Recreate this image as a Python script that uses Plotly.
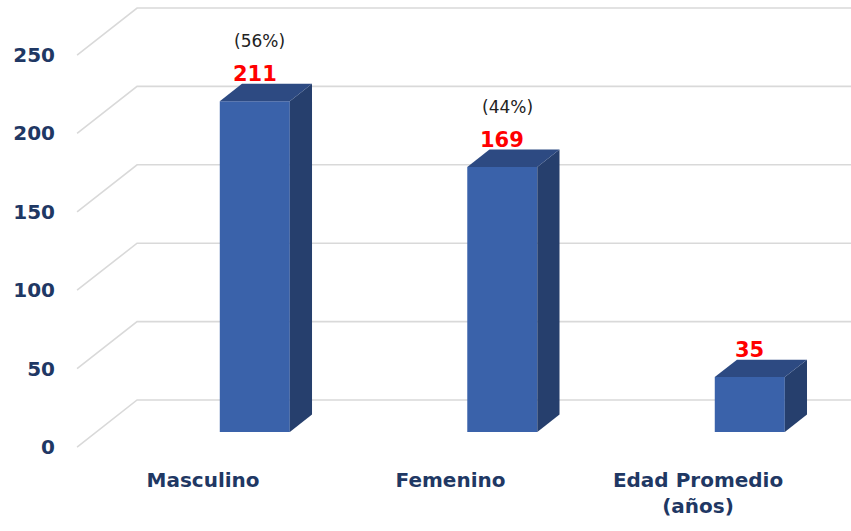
import plotly.graph_objects as go

# ---- data ----
categories = ["Masculino", "Femenino", "Edad Promedio<br>(años)"]
values = [211, 169, 35]
pct_labels = ["(56%)", "(44%)", ""]
y_ticks = [0, 50, 100, 150, 200, 250]

# ---- pseudo-3D geometry (in data units) ----
DX, DY = 0.2424, 30.0          # depth offset of the back wall
Z0, Z1 = 0.32, 0.69            # bar depth (front / back)
BAR_L, BAR_R = -0.01, 0.273    # bar extent relative to category position
GRID_X0, GRID_X1 = -0.509, 2.8

def proj(x, y, z):
    return x + z * DX, y + z * DY

FRONT = "#3A62AA"
TOP = "#2D4A82"
SIDE = "#263F6D"
NAVY = "#1F3864"
FONT = "DejaVu Sans"

fig = go.Figure()

# gridlines: left wall diagonal + back wall horizontal
for v in y_ticks:
    xa, ya = proj(GRID_X0, v, 0)
    xb, yb = proj(GRID_X0, v, 1)
    fig.add_trace(go.Scatter(x=[xa, xb, GRID_X1], y=[ya, yb, yb], mode="lines",
                             line=dict(color="#D9D9D9", width=1.6),
                             hoverinfo="skip", showlegend=False))

# bars
for i, v in enumerate(values):
    l, r = i + BAR_L, i + BAR_R
    faces = [
        ([proj(l, 0, Z0), proj(r, 0, Z0), proj(r, v, Z0), proj(l, v, Z0)], FRONT),
        ([proj(r, 0, Z0), proj(r, 0, Z1), proj(r, v, Z1), proj(r, v, Z0)], SIDE),
        ([proj(l, v, Z0), proj(r, v, Z0), proj(r, v, Z1), proj(l, v, Z1)], TOP),
    ]
    for pts, col in faces:
        fig.add_trace(go.Scatter(x=[p[0] for p in pts] + [pts[0][0]],
                                 y=[p[1] for p in pts] + [pts[0][1]],
                                 fill="toself", fillcolor=col, mode="lines",
                                 line=dict(width=0, color=col),
                                 hoverinfo="skip", showlegend=False))
    # labels
    cx, _ = proj((l + r) / 2, v, Z0)
    _, ty = proj(l, v, Z1)
    fig.add_annotation(x=cx, y=ty, text="<b>%d</b>" % v, showarrow=False, yanchor="bottom",
                       yshift=-4, font=dict(family=FONT, size=21, color="#FF0000"))
    if pct_labels[i]:
        fig.add_annotation(x=cx + 0.02, y=ty, text=pct_labels[i], showarrow=False, yanchor="bottom",
                           yshift=31, font=dict(family=FONT, size=17, color="#222222"))

fig.update_layout(
    width=851, height=531,
    margin=dict(l=60, r=0, t=0, b=65),
    paper_bgcolor="white", plot_bgcolor="white",
    xaxis=dict(range=[-0.578, 2.618], showgrid=False, zeroline=False, showline=False,
               tickmode="array", tickvals=list(range(len(categories))),
               ticktext=[f"<b>{c}</b>".replace("<br>", "</b><br><b>") for c in categories],
               tickfont=dict(family=FONT, size=20, color=NAVY), ticks="",
               automargin=False, fixedrange=True),
    yaxis=dict(range=[-12.1, 285.1], showgrid=False, zeroline=False, showline=False,
               tickmode="array", tickvals=y_ticks, ticktext=[f"<b>{t}</b>" for t in y_ticks],
               tickfont=dict(family=FONT, size=20, color=NAVY), ticks="",
               ticklabelstandoff=4, automargin=False, fixedrange=True),
    showlegend=False,
)

fig.write_html("out.html", config={"displayModeBar": False},
               post_script="document.body.style.margin='0';document.body.style.overflow='hidden';")
